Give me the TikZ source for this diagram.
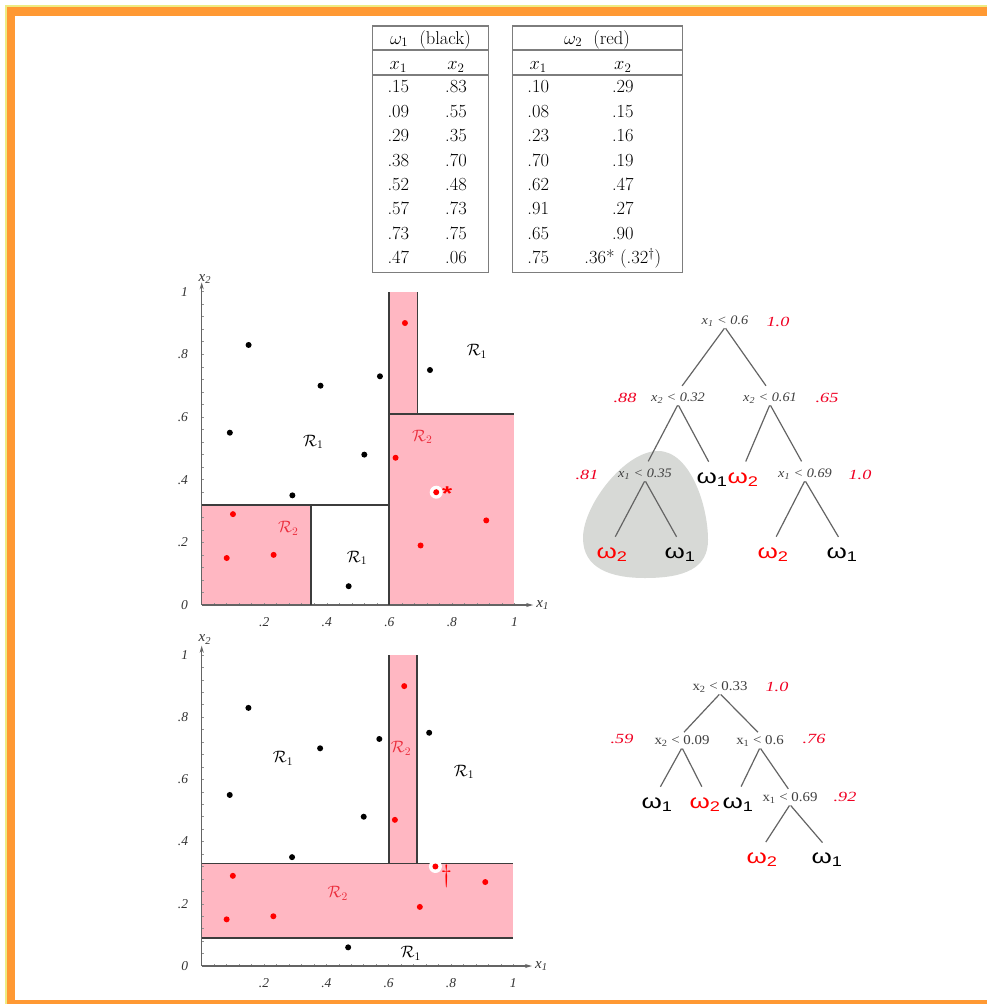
\RequirePackage{fix-cm}
\documentclass[tikz,border=0pt]{standalone}
\usepackage{fontspec}
\newfontfamily\treefont[FakeStretch=1.3]{Liberation Serif}
\newfontfamily\splitfont[FakeStretch=1.1]{Liberation Serif}
\newfontfamily\omegafont[FakeStretch=1.3]{Liberation Sans}
\newfontfamily\axisfont{Liberation Serif}
\usetikzlibrary{arrows.meta, positioning}

\definecolor{frameor}{RGB}{255,153,51}
\definecolor{frameyl}{RGB}{238,236,130}
\definecolor{regpink}{RGB}{255,183,194}
\definecolor{dotred}{RGB}{255,0,0}
\definecolor{scorered}{RGB}{240,0,35}
\definecolor{regred}{RGB}{235,45,60}
\definecolor{bndgray}{RGB}{60,60,60}
\definecolor{axgray}{RGB}{100,100,100}
\definecolor{tabgray}{RGB}{125,125,125}
\definecolor{blobgray}{RGB}{215,217,214}

\newcommand{\blackpts}{.15/.83,.09/.55,.29/.35,.38/.70,.52/.48,.57/.73,.73/.75,.47/.06}
\newcommand{\redpts}{.10/.29,.08/.15,.23/.16,.70/.19,.62/.47,.91/.27,.65/.90}

\begin{document}
\begin{tikzpicture}[x=1pt, y=-1pt,
    tab/.style={font=\fontsize{18.5}{22}\selectfont, inner sep=0pt, anchor=base},
    tabline/.style={draw=tabgray, line width=1.3pt},
    axis/.style={draw=axgray, line width=1.2pt, -{Stealth[length=7pt, width=4pt]}},
    axtick/.style={draw=axgray!70, line width=0.6pt},
    ticklab/.style={font=\axisfont\itshape\fontsize{13.5}{15}\selectfont, text=black!80, inner sep=1pt},
    axlab/.style={ticklab, font=\axisfont\itshape\fontsize{15}{17}\selectfont},
    bound/.style={draw=bndgray, line width=1.7pt},
    reg/.style={font=\fontsize{16.5}{18}\selectfont, inner sep=1pt},
    dotb/.style={circle, fill=black, inner sep=0pt, minimum size=6pt},
    dotr/.style={dotb, fill=dotred},
    ring/.style={circle, fill=white, inner sep=0pt, minimum size=13pt},
    split/.style={font=\splitfont\itshape\fontsize{13}{15}\selectfont, text=black!75, inner sep=1pt},
    splitup/.style={font=\splitfont\fontsize{13.5}{15}\selectfont, text=black!75, inner sep=1pt},
    score/.style={font=\treefont\itshape\fontsize{14}{16}\selectfont, text=scorered, inner sep=1pt},
    leaf/.style={font=\omegafont\fontsize{20}{22}\selectfont, inner xsep=1pt, inner ysep=5pt},
    branch/.style={draw=axgray, line width=1.2pt, shorten >=7pt, shorten <=1pt},
    shortbranch/.style={branch, shorten >=3pt}
]
\useasboundingbox (0,0) rectangle (987,1004);
\fill[white] (0,0) rectangle (987,1004);
\fill[frameyl] (5,5) rectangle (987,7);
\fill[frameyl] (5,5) rectangle (7,1004);
\fill[frameor] (7,7) rectangle (987,16);
\fill[frameor] (7,7) rectangle (15,1004);
\fill[frameor] (7,1000) rectangle (987,1004);

% tables
\draw[tabline] (372.7,26) rectangle (488.3,272.3);
\draw[tabline] (372.7,50) -- (488.3,50);
\draw[tabline] (372.7,75) -- (488.3,75);
\draw[tabline] (512.7,26) rectangle (682.7,272.3);
\draw[tabline] (512.7,50) -- (682.7,50);
\draw[tabline] (512.7,75) -- (682.7,75);
\node[tab] (ha) at (430.5,44) {$\omega_1$\ \ (black)};
\node[tab] (hb) at (597,44) {$\omega_2$\ \ (red)};
\node[tab] (ca1) at (398.3,69.5) {$x_1$};
\node[tab] (ca2) at (456,69.5) {$x_2$};
\node[tab] (cb1) at (538.2,69.5) {$x_1$};
\node[tab] (cb2) at (622.8,69.5) {$x_2$};
\foreach \a/\b/\c/\d [count=\i] in {.15/.83/.10/.29, .09/.55/.08/.15, .29/.35/.23/.16, .38/.70/.70/.19,
    .52/.48/.62/.47, .57/.73/.91/.27, .73/.75/.65/.90, .47/.06/.75/{.36* (.32$^\dagger$)}} {
  \node[tab] (pa\i) at (398.3,68.3+24.43*\i) {\a};
  \node[tab] (qa\i) at (456,68.3+24.43*\i) {\b};
  \node[tab] (pb\i) at (538.2,68.3+24.43*\i) {\c};
  \node[tab] (qb\i) at (622.8,68.3+24.43*\i) {\d};
}

% first partition
\begin{scope}[shift={(201.7,605)}, x=312.7pt, y=313.3pt]
  \fill[regpink] (0,0) rectangle (.35,.32);
  \fill[regpink] (.6,0) rectangle (1,.61);
  \fill[regpink] (.6,.61) rectangle (.69,1);
  \foreach \t in {0.04,0.08,...,1.01} {
    \draw[axtick] (\t,0) -- ++(0,2pt);
    \draw[axtick] (0,\t) -- ++(2pt,0);
  }
  \draw[axis] (0,0) -- (1.06,0);
  \draw[axis] (0,0) -- (0,1.03);
  \draw[bound] (0,.32) -- (.6,.32);
  \draw[bound] (.35,0) -- (.35,.32);
  \draw[bound] (.6,0) -- (.6,1);
  \draw[bound] (.69,.61) -- (.69,1);
  \draw[bound] (.6,.61) -- (1,.61);
  \foreach \t [count=\i] in {.2,.4,.6,.8,1}
    \node[ticklab] (xa\i) at (\t,-.055) {\t};
  \foreach \t [count=\i] in {0,.2,.4,.6,.8,1}
    \node[ticklab, anchor=east] (ya\i) at (-.04,\t) {\t};
  \node[axlab] (xla) at (1.09,0) {x\textsubscript{1}};
  \node[axlab] (yla) at (.01,1.04) {x\textsubscript{2}};
  \foreach \a/\b [count=\i] in \blackpts
    \node[dotb] (ba\i) at (\a,\b) {};
  \foreach \a/\b [count=\i] in \redpts
    \node[dotr] (ra\i) at (\a,\b) {};
  \node[ring] (sa) at (.75,.36) {};
  \node[dotr] (sad) at (sa) {};
  \node[text=dotred, font=\omegafont\bfseries\fontsize{20}{22}\selectfont, inner sep=0pt] (sam) at (.785,.355) {*};
  \node[reg] (ra) at (.88,.81) {$\mathcal{R}_1$};
  \node[reg] (rb) at (.357,.52) {$\mathcal{R}_1$};
  \node[reg, text=regred] (rc) at (.705,.536) {$\mathcal{R}_2$};
  \node[reg, text=regred] (rd) at (.277,.245) {$\mathcal{R}_2$};
  \node[reg] (re) at (.497,.15) {$\mathcal{R}_1$};
\end{scope}

% second partition
\begin{scope}[shift={(201.7,966)}, x=311.6pt, y=311pt]
  \fill[regpink] (0,.09) rectangle (1,.33);
  \fill[regpink] (.6,.33) rectangle (.69,1);
  \foreach \t in {0.04,0.08,...,1.01} {
    \draw[axtick] (\t,0) -- ++(0,2pt);
    \draw[axtick] (0,\t) -- ++(2pt,0);
  }
  \draw[axis] (0,0) -- (1.06,0);
  \draw[axis] (0,0) -- (0,1.03);
  \draw[bound] (0,.33) -- (1,.33);
  \draw[bound] (0,.09) -- (1,.09);
  \draw[bound] (.6,.33) -- (.6,1);
  \draw[bound] (.69,.33) -- (.69,1);
  \foreach \t [count=\i] in {.2,.4,.6,.8,1}
    \node[ticklab] (xb\i) at (\t,-.055) {\t};
  \foreach \t [count=\i] in {0,.2,.4,.6,.8,1}
    \node[ticklab, anchor=east] (yb\i) at (-.04,\t) {\t};
  \node[axlab] (xlb) at (1.09,0) {x\textsubscript{1}};
  \node[axlab] (ylb) at (.01,1.05) {x\textsubscript{2}};
  \foreach \a/\b [count=\i] in \blackpts
    \node[dotb] (bb\i) at (\a,\b) {};
  \foreach \a/\b [count=\i] in \redpts
    \node[dotr] (rb\i) at (\a,\b) {};
  \node[ring] (sb) at (.75,.32) {};
  \node[dotr] (sbd) at (sb) {};
  \node[text=dotred, font=\fontsize{25}{27}\selectfont, inner sep=0pt] (sbm) at (.785,.29) {$\dagger$};
  \node[reg] (rf) at (.261,.668) {$\mathcal{R}_1$};
  \node[reg, text=regred] (rg) at (.64,.70) {$\mathcal{R}_2$};
  \node[reg] (rh) at (.842,.625) {$\mathcal{R}_1$};
  \node[reg, text=regred] (ri) at (.437,.234) {$\mathcal{R}_2$};
  \node[reg] (rj) at (.671,.041) {$\mathcal{R}_1$};
\end{scope}

% first tree
\fill[blobgray] (658,451) .. controls (625,451) and (583,505) .. (583,538)
  .. controls (583,568) and (610,578) .. (645,578)
  .. controls (685,578) and (708,568) .. (708,540)
  .. controls (708,505) and (690,451) .. (658,451) -- cycle;
\node[split] (t0) at (725,321) {x\textsubscript{1} < 0.6};
\node[score] (s0) at (778,322) {1.0};
\node[split] (t1) at (678,398) {x\textsubscript{2} < 0.32};
\node[score] (s1) at (625,398) {.88};
\node[split] (t2) at (770,398) {x\textsubscript{2} < 0.61};
\node[score] (s2) at (827,398) {.65};
\node[split] (t3) at (645,474) {x\textsubscript{1} < 0.35};
\node[score] (s3) at (587,475) {.81};
\node[leaf] (l1) at (712,480) {ω\textsubscript{1}};
\node[leaf, text=dotred] (l2) at (743,480) {ω\textsubscript{2}};
\node[split] (t4) at (805,474) {x\textsubscript{1} < 0.69};
\node[score] (s4) at (860,475) {1.0};
\node[leaf, text=dotred] (l3) at (612,555) {ω\textsubscript{2}};
\node[leaf] (l4) at (680,555) {ω\textsubscript{1}};
\node[leaf, text=dotred] (l5) at (773,555) {ω\textsubscript{2}};
\node[leaf] (l6) at (842,555) {ω\textsubscript{1}};
\draw[branch] (t0.south) -- (t1.north);
\draw[branch] (t0.south) -- (t2.north);
\draw[branch] (t1.south) -- (t3.north);
\draw[branch] (t1.south) -- (l1.north);
\draw[branch] (t2.south) -- (l2.north);
\draw[branch] (t2.south) -- (t4.north);
\draw[branch] (t3.south) -- (l3.north);
\draw[branch] (t3.south) -- (l4.north);
\draw[branch] (t4.south) -- (l5.north);
\draw[branch] (t4.south) -- (l6.north);

% second tree
\node[splitup] (u0) at (720,687) {x\textsubscript{2} < 0.33};
\node[score] (v0) at (777,687) {1.0};
\node[splitup] (u1) at (682,741) {x\textsubscript{2} < 0.09};
\node[score] (v1) at (622,739) {.59};
\node[splitup] (u2) at (760,741) {x\textsubscript{1} < 0.6};
\node[score] (v2) at (814,739) {.76};
\node[leaf] (k1) at (657,805) {ω\textsubscript{1}};
\node[leaf, text=dotred] (k2) at (705,805) {ω\textsubscript{2}};
\node[leaf] (k3) at (738,805) {ω\textsubscript{1}};
\node[splitup] (u3) at (790,798) {x\textsubscript{1} < 0.69};
\node[score] (v3) at (845,797) {.92};
\node[leaf, text=dotred] (k4) at (762,860) {ω\textsubscript{2}};
\node[leaf] (k5) at (827,860) {ω\textsubscript{1}};
\draw[shortbranch] (u0.south) -- (u1.north);
\draw[shortbranch] (u0.south) -- (u2.north);
\draw[branch] (u1.south) -- (k1.north);
\draw[branch] (u1.south) -- (k2.north);
\draw[branch] (u2.south) -- (k3.north);
\draw[shortbranch] (u2.south) -- (u3.north);
\draw[branch] (u3.south) -- (k4.north);
\draw[branch] (u3.south) -- (k5.north);
\end{tikzpicture}
\end{document}
